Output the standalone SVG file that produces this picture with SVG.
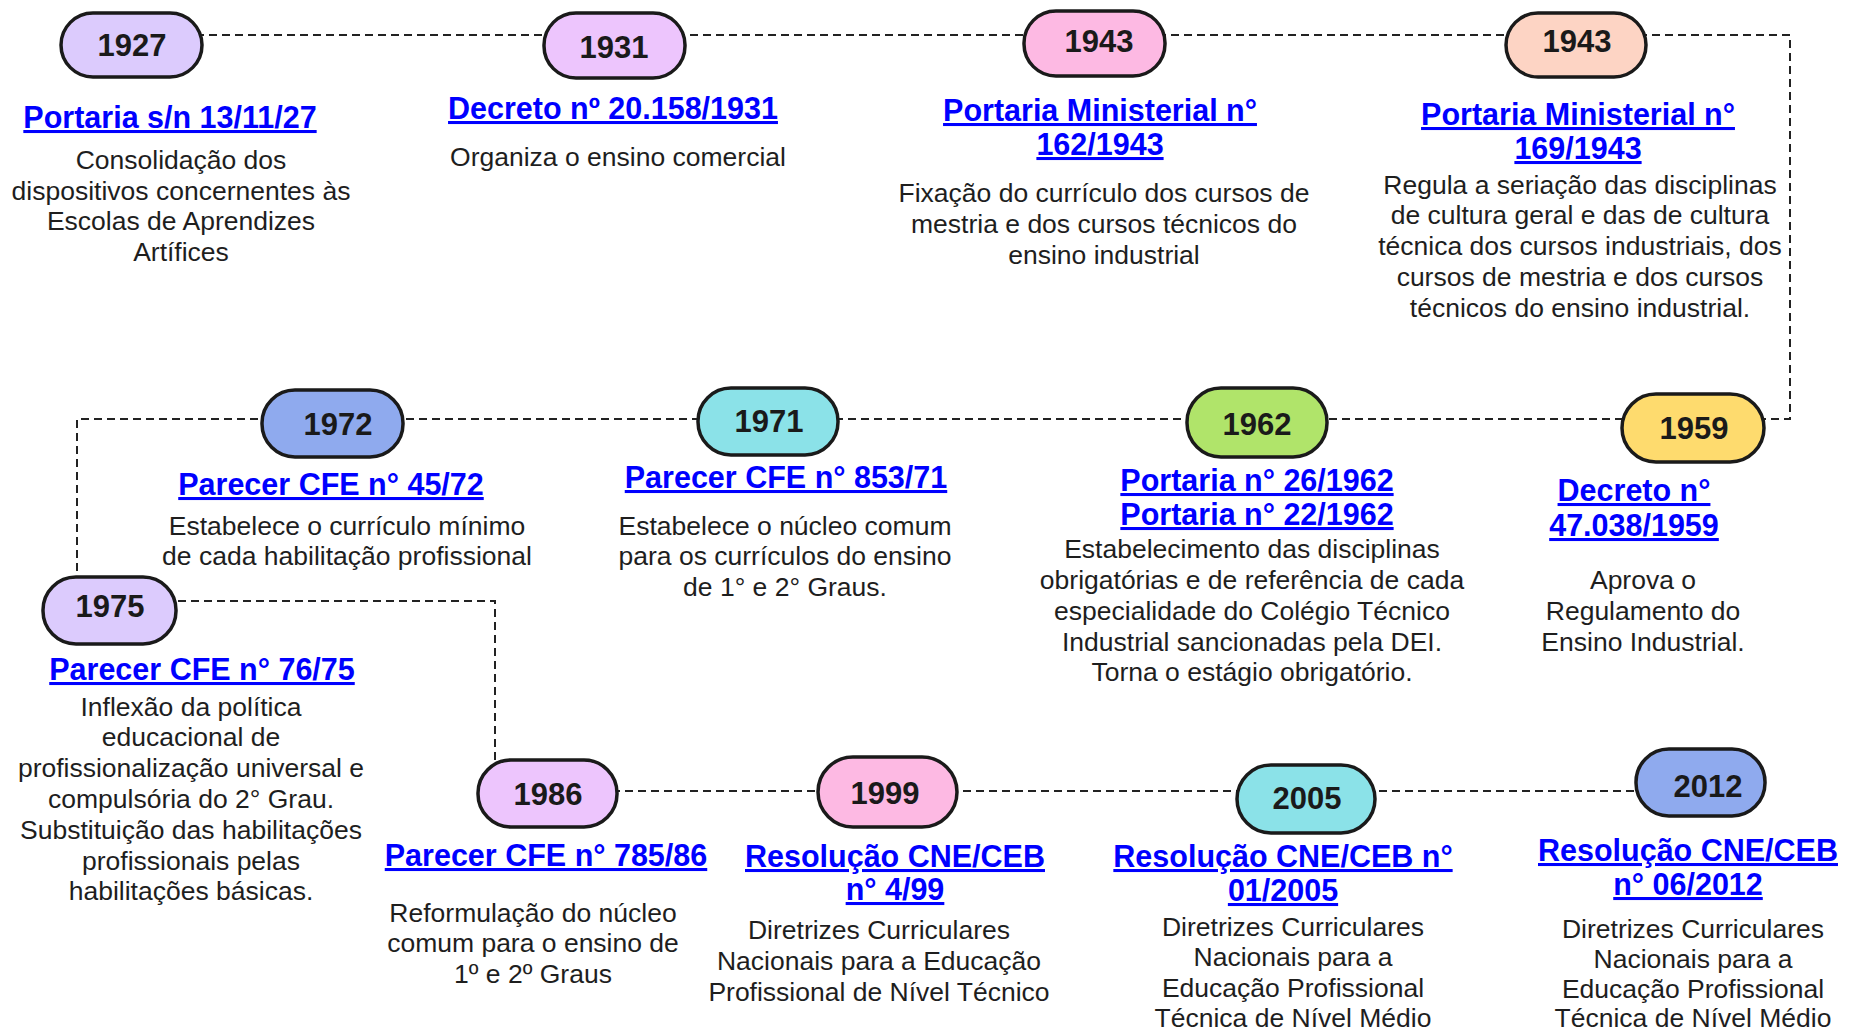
<svg xmlns="http://www.w3.org/2000/svg" width="1856" height="1034" viewBox="0 0 1856 1034">
<style>
.pill{stroke:#1a1a1a;stroke-width:3.5}
.yr{font-family:"Liberation Sans",Arial,sans-serif;font-weight:bold;font-size:31px;fill:#1a1a1a;text-anchor:middle}
.ttl{font-family:"Liberation Sans",Arial,sans-serif;font-weight:bold;font-size:30.5px;fill:#0000ff;text-anchor:middle;text-decoration:underline}
.bd{font-family:"Liberation Sans",Arial,sans-serif;font-size:26.5px;fill:#1e1e1e;text-anchor:middle}
.conn{fill:none;stroke:#222;stroke-width:2;stroke-dasharray:8 5}
</style>
<rect width="1856" height="1034" fill="#fff"/>
<g id="connectors">
<path class="conn" d="M131 35 H1790 V419 H77 V577"/>
<path class="conn" d="M178 601 H495 V760"/>
<path class="conn" d="M547 791 H1700"/>
</g>
<g id="n1927">
<rect class="pill" x="61" y="13" width="141" height="64" rx="32" fill="#dccbfd"/>
<text class="yr" x="132" y="56">1927</text>
<text class="ttl" x="170" y="128">Portaria s/n 13/11/27</text>
<text class="bd"><tspan x="181" y="169">Consolidação dos</tspan><tspan x="181" y="200">dispositivos concernentes às</tspan><tspan x="181" y="230">Escolas de Aprendizes</tspan><tspan x="181" y="261">Artífices</tspan></text>
</g>
<g id="n1931">
<rect class="pill" x="544" y="13" width="141" height="65" rx="32" fill="#edc5fd"/>
<text class="yr" x="614" y="58">1931</text>
<text class="ttl" x="613" y="119">Decreto nº 20.158/1931</text>
<text class="bd" x="618" y="166">Organiza o ensino comercial</text>
</g>
<g id="n1943a">
<rect class="pill" x="1024" y="11" width="141" height="65" rx="32" fill="#fdb9e3"/>
<text class="yr" x="1099" y="52">1943</text>
<text class="ttl"><tspan x="1100" y="121">Portaria Ministerial n°</tspan><tspan x="1100" y="155">162/1943</tspan></text>
<text class="bd"><tspan x="1104" y="202">Fixação do currículo dos cursos de</tspan><tspan x="1104" y="233">mestria e dos cursos técnicos do</tspan><tspan x="1104" y="264">ensino industrial</tspan></text>
</g>
<g id="n1943b">
<rect class="pill" x="1506" y="13" width="140" height="64" rx="32" fill="#fdd4c4"/>
<text class="yr" x="1577" y="52">1943</text>
<text class="ttl"><tspan x="1578" y="125">Portaria Ministerial n°</tspan><tspan x="1578" y="159">169/1943</tspan></text>
<text class="bd"><tspan x="1580" y="194">Regula a seriação das disciplinas</tspan><tspan x="1580" y="224">de cultura geral e das de cultura</tspan><tspan x="1580" y="255">técnica dos cursos industriais, dos</tspan><tspan x="1580" y="286">cursos de mestria e dos cursos</tspan><tspan x="1580" y="317">técnicos do ensino industrial.</tspan></text>
</g>
<g id="n1972">
<rect class="pill" x="262" y="390" width="141" height="67" rx="33" fill="#8faaee"/>
<text class="yr" x="338" y="435">1972</text>
<text class="ttl" x="331" y="495">Parecer CFE n° 45/72</text>
<text class="bd"><tspan x="347" y="535">Estabelece o currículo mínimo</tspan><tspan x="347" y="565">de cada habilitação profissional</tspan></text>
</g>
<g id="n1971">
<rect class="pill" x="698" y="388" width="140" height="67" rx="33" fill="#8be2e8"/>
<text class="yr" x="769" y="432">1971</text>
<text class="ttl" x="786" y="488">Parecer CFE n° 853/71</text>
<text class="bd"><tspan x="785" y="535">Estabelece o núcleo comum</tspan><tspan x="785" y="565">para os currículos do ensino</tspan><tspan x="785" y="596">de 1° e 2° Graus.</tspan></text>
</g>
<g id="n1962">
<rect class="pill" x="1187" y="388" width="140" height="69" rx="34" fill="#b0e46a"/>
<text class="yr" x="1257" y="435">1962</text>
<text class="ttl"><tspan x="1257" y="491">Portaria n° 26/1962</tspan><tspan x="1257" y="525">Portaria n° 22/1962</tspan></text>
<text class="bd"><tspan x="1252" y="558">Estabelecimento das disciplinas</tspan><tspan x="1252" y="589">obrigatórias e de referência de cada</tspan><tspan x="1252" y="620">especialidade do Colégio Técnico</tspan><tspan x="1252" y="651">Industrial sancionadas pela DEI.</tspan><tspan x="1252" y="681">Torna o estágio obrigatório.</tspan></text>
</g>
<g id="n1959">
<rect class="pill" x="1622" y="394" width="142" height="68" rx="34" fill="#fedb6e"/>
<text class="yr" x="1694" y="439">1959</text>
<text class="ttl"><tspan x="1634" y="501">Decreto n°</tspan><tspan x="1634" y="536">47.038/1959</tspan></text>
<text class="bd"><tspan x="1643" y="589">Aprova o</tspan><tspan x="1643" y="620">Regulamento do</tspan><tspan x="1643" y="651">Ensino Industrial.</tspan></text>
</g>
<g id="n1975">
<rect class="pill" x="43" y="577" width="133" height="67" rx="33" fill="#dccbfd"/>
<text class="yr" x="110" y="617">1975</text>
<text class="ttl" x="202" y="680">Parecer CFE n° 76/75</text>
<text class="bd"><tspan x="191" y="716">Inflexão da política</tspan><tspan x="191" y="746">educacional de</tspan><tspan x="191" y="777">profissionalização universal e</tspan><tspan x="191" y="808">compulsória do 2° Grau.</tspan><tspan x="191" y="839">Substituição das habilitações</tspan><tspan x="191" y="870">profissionais pelas</tspan><tspan x="191" y="900">habilitações básicas.</tspan></text>
</g>
<g id="n1986">
<rect class="pill" x="478" y="760" width="139" height="67" rx="33" fill="#edc5fd"/>
<text class="yr" x="548" y="805">1986</text>
<text class="ttl" x="546" y="866">Parecer CFE n° 785/86</text>
<text class="bd"><tspan x="533" y="922">Reformulação do núcleo</tspan><tspan x="533" y="952">comum para o ensino de</tspan><tspan x="533" y="983">1º e 2º Graus</tspan></text>
</g>
<g id="n1999">
<rect class="pill" x="818" y="757" width="139" height="70" rx="35" fill="#fdb9e3"/>
<text class="yr" x="885" y="804">1999</text>
<text class="ttl"><tspan x="895" y="867">Resolução CNE/CEB</tspan><tspan x="895" y="900">n° 4/99</tspan></text>
<text class="bd"><tspan x="879" y="939">Diretrizes Curriculares</tspan><tspan x="879" y="970">Nacionais para a Educação</tspan><tspan x="879" y="1001">Profissional de Nível Técnico</tspan></text>
</g>
<g id="n2005">
<rect class="pill" x="1237" y="765" width="138" height="68" rx="34" fill="#8be2e8"/>
<text class="yr" x="1307" y="809">2005</text>
<text class="ttl"><tspan x="1283" y="867">Resolução CNE/CEB n°</tspan><tspan x="1283" y="901">01/2005</tspan></text>
<text class="bd"><tspan x="1293" y="936">Diretrizes Curriculares</tspan><tspan x="1293" y="966">Nacionais para a</tspan><tspan x="1293" y="997">Educação Profissional</tspan><tspan x="1293" y="1027">Técnica de Nível Médio</tspan></text>
</g>
<g id="n2012">
<rect class="pill" x="1636" y="749" width="129" height="67" rx="33" fill="#8faaee"/>
<text class="yr" x="1708" y="797">2012</text>
<text class="ttl"><tspan x="1688" y="861">Resolução CNE/CEB</tspan><tspan x="1688" y="895">n° 06/2012</tspan></text>
<text class="bd"><tspan x="1693" y="938">Diretrizes Curriculares</tspan><tspan x="1693" y="968">Nacionais para a</tspan><tspan x="1693" y="998">Educação Profissional</tspan><tspan x="1693" y="1027">Técnica de Nível Médio</tspan></text>
</g>
</svg>
